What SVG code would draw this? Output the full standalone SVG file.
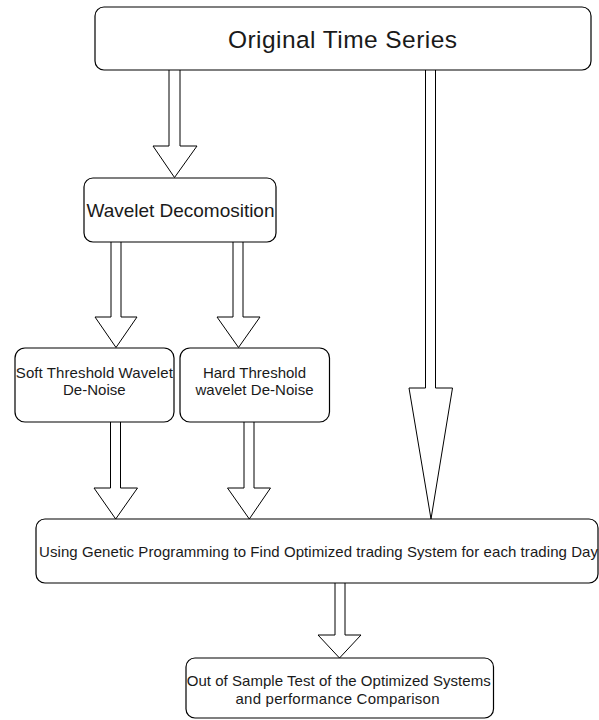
<svg xmlns="http://www.w3.org/2000/svg" width="599" height="720" viewBox="0 0 599 720">
<style>
.box{fill:#fff;stroke:#000;stroke-width:1.2}
.arr{fill:#fff;stroke:#000;stroke-width:1}
text{font-family:"Liberation Sans",Arial,sans-serif;fill:#1a1a1a}
.t15{font-size:15px}
</style>
<rect width="599" height="720" fill="#fff"/>
<g id="connectors">
<path class="arr" d="M169,70 V146 H153 L174.5,177.5 L197,146 H180 V70"/>
<path class="arr" d="M425.5,70 V388 H409 L431,519 L452.5,388 H435.5 V70"/>
<path class="arr" d="M111,242 V317 H95 L116,347.5 L137,317 H121 V242"/>
<path class="arr" d="M233,242 V317 H217 L238.5,347.5 L260,317 H243 V242"/>
<path class="arr" d="M110.5,422 V488 H94 L115.7,519 L137.5,488 H120.5 V422"/>
<path class="arr" d="M244,422 V488 H227.5 L249.3,519 L270.5,488 H254 V422"/>
<path class="arr" d="M335,583 V635 H318 L339.5,658 L361,635 H345 V583"/>
</g>
<g id="original">
<rect class="box" x="95" y="7" width="496" height="63" rx="9"/>
<text x="342.5" y="47.5" font-size="24.5" text-anchor="middle" textLength="229" lengthAdjust="spacing">Original Time Series</text>
</g>
<g id="wavelet">
<rect class="box" x="84" y="178" width="192" height="64" rx="9"/>
<text x="180.5" y="216.5" font-size="19" text-anchor="middle" textLength="188" lengthAdjust="spacing">Wavelet Decomosition</text>
</g>
<g id="soft">
<rect class="box" x="15" y="348" width="159" height="74" rx="10"/>
<text class="t15" x="94.3" y="377.5" text-anchor="middle" textLength="157" lengthAdjust="spacing">Soft Threshold Wavelet</text>
<text class="t15" x="94.3" y="394.5" text-anchor="middle">De-Noise</text>
</g>
<g id="hard">
<rect class="box" x="180" y="348" width="149.5" height="74" rx="10"/>
<text class="t15" x="254.5" y="377.5" text-anchor="middle">Hard Threshold</text>
<text class="t15" x="254.5" y="394.5" text-anchor="middle" textLength="118" lengthAdjust="spacing">wavelet De-Noise</text>
</g>
<g id="genetic">
<rect class="box" x="36" y="519" width="562" height="64" rx="9"/>
<text class="t15" x="39" y="556.5" textLength="559" lengthAdjust="spacing">Using Genetic Programming to Find Optimized trading System for each trading Day</text>
</g>
<g id="final">
<rect class="box" x="186" y="658" width="307.5" height="60" rx="9"/>
<text class="t15" x="338.7" y="685.5" text-anchor="middle" textLength="304" lengthAdjust="spacing">Out of Sample Test of the Optimized Systems</text>
<text class="t15" x="337.5" y="703.5" text-anchor="middle" textLength="204" lengthAdjust="spacing">and performance Comparison</text>
</g>
</svg>
